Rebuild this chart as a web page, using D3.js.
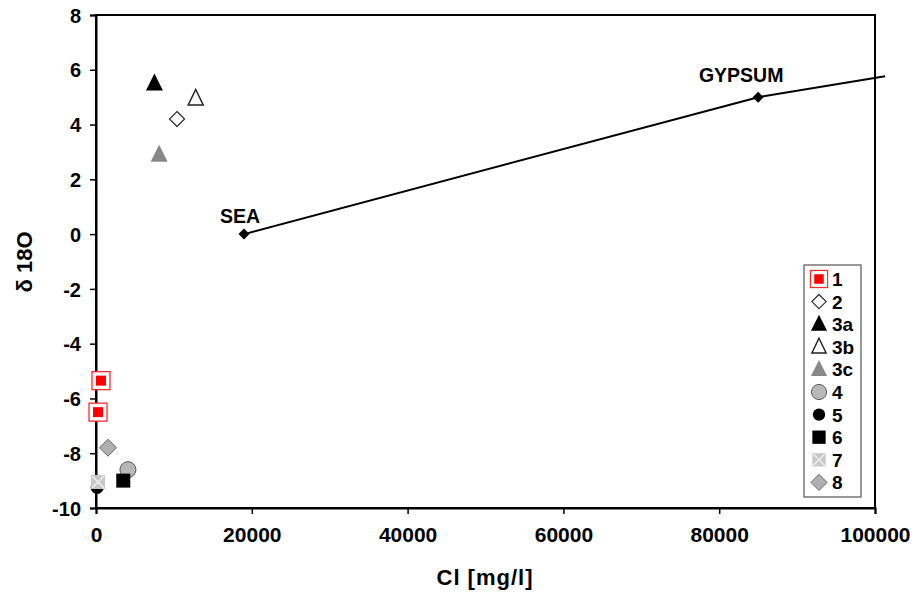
<!DOCTYPE html>
<html lang="en">
<head>
  <meta charset="UTF-8">
  <title>d18O vs Cl</title>
  <script src="https://cdnjs.cloudflare.com/ajax/libs/d3/7.8.5/d3.min.js"></script>
  <style>
    body { margin: 0; background: #fff; }
    text { font-family: "Liberation Sans", Arial, sans-serif; font-weight: bold; fill: #000; }
  </style>
</head>
<body>
  <div id="chart"></div>
  <script>
// legend groups, in legend order
var groups = ["1", "2", "3a", "3b", "3c", "4", "5", "6", "7", "8"];

// sample points: group, Cl [mg/l], d18O
var sampleGroup = ["3a", "3b", "2", "3c", "1", "1", "8", "4", "6", "5", "7"];
var sampleCl    = [7500, 12800, 10400, 8100, 640, 260, 1540, 4100, 3500, 150, 260];
var sampleO18   = [5.5, 4.95, 4.2, 2.9, -5.35, -6.5, -7.8, -8.6, -9.0, -9.25, -9.05];

// evaporation line from sea water towards gypsum saturation
var lineCl  = [19000, 85000, 101300];
var lineO18 = [0, 5, 5.76];
var lineLabels = ["SEA", "GYPSUM", ""];

var xTicks = [0, 20000, 40000, 60000, 80000, 100000];
var yTicks = [-10, -8, -6, -4, -2, 0, 2, 4, 6, 8];

var svgWidth = 914;
var svgHeight = 596;
var margin = { top: 15, right: 39, bottom: 88, left: 96 };
var width = svgWidth - margin.left - margin.right;
var height = svgHeight - margin.top - margin.bottom;

var svg = d3.select("#chart")
  .append("svg")
  .attr("width", svgWidth)
  .attr("height", svgHeight);

var chartGroup = svg.append("g")
  .attr("transform", `translate(${margin.left}, ${margin.top})`);

var xScale = d3.scaleLinear().domain([0, 100000]).range([0, width]);
var yScale = d3.scaleLinear().domain([-10, 8]).range([height, 0]);

// plot area frame
chartGroup.append("rect")
  .attr("width", width).attr("height", height)
  .attr("fill", "none")
  .attr("stroke", "#000").attr("stroke-width", 2);

// axes
var bottomAxis = d3.axisBottom(xScale).tickValues(xTicks).tickSize(6).tickPadding(13).tickFormat(d => String(d));
var leftAxis = d3.axisLeft(yScale).tickValues(yTicks).tickSize(6).tickPadding(9).tickFormat(d => String(d));

var xAxis = chartGroup.append("g")
  .attr("transform", `translate(0, ${height})`)
  .call(bottomAxis);
var yAxis = chartGroup.append("g").call(leftAxis);

[xAxis, yAxis].forEach(function(ax) {
  ax.select(".domain").attr("stroke", "#000").attr("stroke-width", 2);
  ax.selectAll(".tick line").attr("stroke", "#000").attr("stroke-width", 1.5);
  ax.selectAll("text")
    .style("font-family", "'Liberation Sans', Arial, sans-serif")
    .style("font-weight", "bold")
    .attr("fill", "#000");
});
xAxis.selectAll("text").style("font-size", "21px");
yAxis.selectAll("text").style("font-size", "20px").attr("dy", "0.36em");

// axis titles
svg.append("text")
  .attr("x", 485)
  .attr("y", 585)
  .attr("text-anchor", "middle")
  .style("font-size", "22px")
  .style("letter-spacing", "1px")
  .text("Cl [mg/l]");

svg.append("text")
  .attr("transform", "translate(32, 262) rotate(-90)")
  .attr("text-anchor", "middle")
  .style("font-size", "22px")
  .text("δ 18O");

// marker drawing
function drawMarker(g, type) {
  var tri = "M0,-10L8.5,7L-8.5,7Z";
  if (type === "1") {
    g.append("rect").attr("x", -9).attr("y", -9).attr("width", 18).attr("height", 18)
      .attr("fill", "#fff").attr("stroke", "#ff2a2a").attr("stroke-width", 1.3);
    g.append("rect").attr("x", -5).attr("y", -5).attr("width", 10).attr("height", 10)
      .attr("fill", "#ff0000");
  } else if (type === "2") {
    g.append("path").attr("d", "M0,-7.5L7.5,0L0,7.5L-7.5,0Z")
      .attr("fill", "#fff").attr("stroke", "#333").attr("stroke-width", 1.3);
  } else if (type === "3a") {
    g.append("path").attr("d", tri).attr("fill", "#000");
  } else if (type === "3b") {
    g.append("path").attr("d", "M0,-9L7.5,6.5L-7.5,6.5Z").attr("fill", "#fff").attr("stroke", "#222").attr("stroke-width", 1.5);
  } else if (type === "3c") {
    g.append("path").attr("d", tri).attr("fill", "#888");
  } else if (type === "4") {
    g.append("circle").attr("r", 8).attr("fill", "#b8b8b8").attr("stroke", "#555").attr("stroke-width", 1);
  } else if (type === "5") {
    g.append("circle").attr("r", 6.5).attr("fill", "#000");
  } else if (type === "6") {
    g.append("rect").attr("x", -7).attr("y", -7).attr("width", 14).attr("height", 14).attr("fill", "#000");
  } else if (type === "7") {
    g.append("rect").attr("x", -7).attr("y", -7).attr("width", 14).attr("height", 14).attr("fill", "#c8c8c8");
    g.append("path").attr("d", "M-6,-6L6,6M6,-6L-6,6").attr("stroke", "#eee").attr("stroke-width", 1.5);
  } else if (type === "8") {
    g.append("path").attr("d", "M0,-8.5L8.5,0L0,8.5L-8.5,0Z").attr("fill", "#b0b0b0").attr("stroke", "#666").attr("stroke-width", 1);
  }
}

// evaporation line
var lineData = lineCl.map(function(c, i) { return { cl: c, o: lineO18[i], label: lineLabels[i] }; });
chartGroup.append("path")
  .datum(lineData)
  .attr("fill", "none")
  .attr("stroke", "#000")
  .attr("stroke-width", 2)
  .attr("d", d3.line().x(d => xScale(d.cl)).y(d => yScale(d.o)));

var labelled = lineData.filter(d => d.label !== "");
chartGroup.selectAll(".lineMark")
  .data(labelled)
  .enter()
  .append("path")
  .attr("transform", d => `translate(${xScale(d.cl)}, ${yScale(d.o)})`)
  .attr("d", "M0,-5.5L5.5,0L0,5.5L-5.5,0Z")
  .attr("fill", "#000");

chartGroup.selectAll(".lineLabel")
  .data(labelled)
  .enter()
  .append("text")
  .attr("x", d => xScale(d.cl))
  .attr("y", d => yScale(d.o))
  .attr("text-anchor", "middle")
  .attr("dx", d => d.label === "SEA" ? -4 : -17)
  .attr("dy", d => d.label === "SEA" ? -11 : -15)
  .style("font-size", "19.5px")
  .text(d => d.label);

// samples (draw in order so later ones overlap earlier ones)
var samples = sampleGroup.map(function(g, i) { return { group: g, cl: sampleCl[i], o: sampleO18[i] }; });
samples.forEach(function(d) {
  var g = chartGroup.append("g")
    .attr("transform", `translate(${xScale(d.cl)}, ${yScale(d.o)})`);
  drawMarker(g, d.group);
});

// legend
var legend = svg.append("g").attr("transform", "translate(804, 265)");
legend.append("rect")
  .attr("width", 57).attr("height", 232)
  .attr("fill", "#fff").attr("stroke", "#555").attr("stroke-width", 1.2);

groups.forEach(function(gName, i) {
  var row = legend.append("g").attr("transform", `translate(15, ${14 + i * 22.6})`);
  var m = row.append("g").attr("transform", "scale(0.95)");
  drawMarker(m, gName);
  row.append("text")
    .attr("x", 13)
    .attr("y", 7)
    .style("font-size", "19px")
    .text(gName);
});
  </script>
</body>
</html>
